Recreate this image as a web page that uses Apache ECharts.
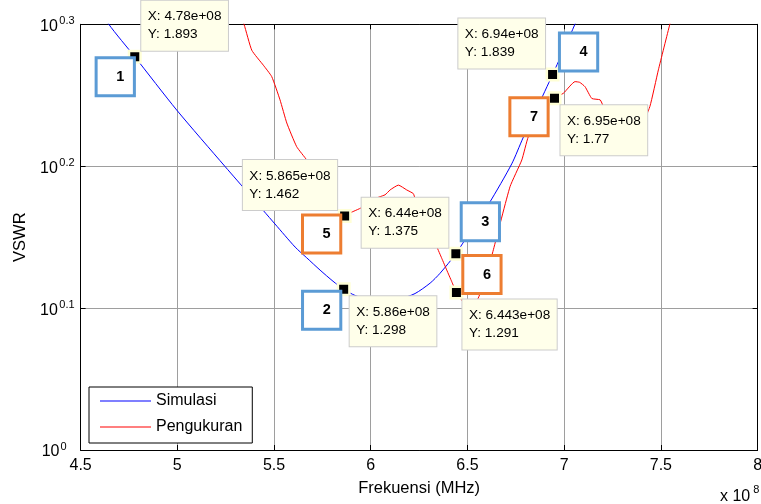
<!DOCTYPE html>
<html><head><meta charset="utf-8">
<script src="https://cdn.jsdelivr.net/npm/echarts@6/dist/echarts.min.js"></script>
<style>html,body{margin:0;padding:0;background:#fff}#c{width:761px;height:504px}</style>
</head><body><div id="c"></div>
<script>
// ---- data (frequency in units of 10^8 Hz) ----
const simFreq = [4.574, 4.645, 4.78, 4.997, 5.247, 5.376, 5.505, 5.609, 5.669, 5.738, 5.805, 5.86, 5.919, 5.986, 6.074, 6.151, 6.229, 6.307, 6.358, 6.44, 6.539, 6.613, 6.729, 6.787, 6.86, 6.94, 7.004, 7.056, 7.108];
const simVswr = [2.075, 1.996, 1.893, 1.736, 1.584, 1.512, 1.443, 1.390, 1.366, 1.339, 1.315, 1.298, 1.285, 1.277, 1.274, 1.278, 1.289, 1.311, 1.332, 1.375, 1.443, 1.493, 1.591, 1.659, 1.742, 1.839, 1.923, 1.996, 2.075];
const measFreq = [5.32, 5.345, 5.385, 5.445, 5.488, 5.531, 5.566, 5.617, 5.669, 5.72, 5.79, 5.865, 5.892, 5.953, 6.00, 6.074, 6.10, 6.143, 6.186, 6.22, 6.229, 6.28, 6.341, 6.367, 6.393, 6.419, 6.443, 6.477, 6.515, 6.555, 6.60, 6.634, 6.72, 6.781, 6.815, 6.88, 6.95, 6.996, 7.056, 7.08, 7.108, 7.143, 7.186, 7.203, 7.26, 7.33, 7.39, 7.443, 7.487, 7.546, 7.56];
const measVswr = [2.03, 1.995, 1.913, 1.867, 1.833, 1.765, 1.700, 1.636, 1.601, 1.56, 1.50, 1.462, 1.469, 1.482, 1.50, 1.513, 1.525, 1.537, 1.525, 1.516, 1.504, 1.45, 1.391, 1.365, 1.339, 1.314, 1.291, 1.272, 1.262, 1.279, 1.33, 1.384, 1.533, 1.601, 1.663, 1.72, 1.77, 1.784, 1.818, 1.816, 1.803, 1.769, 1.765, 1.746, 1.70, 1.66, 1.68, 1.746, 1.853, 1.995, 2.03];
const tipFreq = [4.78, 5.86, 6.44, 6.94, 5.865, 6.443, 6.95];
const tipVswr = [1.893, 1.298, 1.375, 1.839, 1.462, 1.291, 1.77];
const tipNumbers = ['1', '2', '3', '4', '5', '6', '7'];
const xTickLabels = ['4.5', '5', '5.5', '6', '6.5', '7', '7.5', '8'];
const yTickExponents = [0, 0.1, 0.2, 0.3];
const seriesNames = ['Simulasi', 'Pengukuran'];

// ---- annotation layout (positions / styles, not data) ----
const tipPlacement = ['ne', 'se', 'nw', 'nw', 'nw', 'se', 'se'];
const numberBoxOffsets = [[-19.5, 20], [-22, 21], [24.5, -32], [26, -22.5], [-23, 18], [25.5, -18], [-25.5, 18.5]];
const numberBoxColors = ['#5B9BD5', '#5B9BD5', '#5B9BD5', '#5B9BD5', '#ED7D31', '#ED7D31', '#ED7D31'];

const FONT = '"Liberation Sans", Arial, sans-serif';
const TIP_FS = 13.6, TIP_PX = 6.5, TIP_PY = 7, TIP_LH = 18;
const ctx = document.createElement('canvas').getContext('2d');
ctx.font = TIP_FS + 'px "Liberation Sans"';
function tipLines(i) { return ['X: ' + tipFreq[i] + 'e+08', 'Y: ' + tipVswr[i]]; }

const xMin = parseFloat(xTickLabels[0]), xMax = parseFloat(xTickLabels[xTickLabels.length - 1]);
const xInterval = parseFloat(xTickLabels[1]) - xMin;
const yMin = Math.pow(10, yTickExponents[0]);
const yMax = Math.pow(10, yTickExponents[yTickExponents.length - 1]);
const yLogInterval = yTickExponents[1] - yTickExponents[0];

const tipData = tipFreq.map((f, i) => {
  const lines = tipLines(i);
  const w = Math.max(...lines.map(l => ctx.measureText(l).width)) + 2 * TIP_PX;
  const p = tipPlacement[i];
  let dx, dy;
  if (p === 'ne') { dx = 6.5; dy = -56; }
  else if (p === 'se') { dx = 6; dy = 7; }
  else { dx = -7.5 - w; dy = -56; }
  return { value: [f, tipVswr[i]], label: { offset: [dx, dy] } };
});
const numData = tipFreq.map((f, i) => ({
  value: [f, tipVswr[i]],
  label: { offset: numberBoxOffsets[i], borderColor: numberBoxColors[i], formatter: tipNumbers[i] }
}));

const supRich = {
  b: { fontSize: 16, fontFamily: FONT, color: '#000', lineHeight: 18, padding: [6, 0, 2, 0] },
  s: { fontSize: 11, fontFamily: FONT, color: '#000', lineHeight: 12, verticalAlign: 'top', padding: [0, 0, 0, 1.5] },
  s0: { fontSize: 11, fontFamily: FONT, color: '#000', lineHeight: 12, verticalAlign: 'top', padding: [0, 8, 0, 1] }
};

const chart = echarts.init(document.getElementById('c'), null, { renderer: 'canvas' });
chart.setOption({
  animation: false,
  backgroundColor: '#fff',
  textStyle: { fontFamily: FONT },
  grid: { left: 80.6, right: 3.4, top: 24.3, bottom: 54, outerBoundsMode: 'none', containLabel: false },
  legend: {
    data: seriesNames, orient: 'vertical', left: 89, top: 387,
    icon: 'rect', itemWidth: 51, itemHeight: 1, itemGap: 8, padding: [5, 10, 7, 11],
    backgroundColor: '#fff', borderColor: '#000', borderWidth: 1, borderRadius: 0,
    textStyle: { fontSize: 16, lineHeight: 18, color: '#000', fontFamily: FONT }
  },
  xAxis: [{
    type: 'value', min: xMin, max: xMax, interval: xInterval,
    name: 'Frekuensi (MHz)', nameLocation: 'middle', nameGap: 30,
    nameTextStyle: { fontSize: 16.5, color: '#000', fontFamily: FONT },
    axisLine: { show: true, onZero: false, lineStyle: { color: '#000', width: 1 } },
    axisTick: { show: true, inside: true, length: 5, lineStyle: { color: '#000' } },
    axisLabel: { fontSize: 16, color: '#000', margin: 8, showMinLabel: true, showMaxLabel: true,
      formatter: (v) => xTickLabels.find(t => Math.abs(parseFloat(t) - v) < 1e-6) || '' },
    splitLine: { show: true, lineStyle: { color: '#9e9e9e', width: 1 } }
  }, {
    type: 'value', position: 'top', min: xMin, max: xMax, interval: xInterval,
    axisLine: { show: true, onZero: false, lineStyle: { color: '#000', width: 1 } },
    axisTick: { show: true, inside: true, length: 5, lineStyle: { color: '#000' } },
    axisLabel: { show: false }, splitLine: { show: false }
  }],
  yAxis: [{
    type: 'log', logBase: 10, min: yMin, max: yMax, interval: yLogInterval,
    name: 'VSWR', nameLocation: 'middle', nameGap: 52, nameRotate: 90,
    nameTextStyle: { fontSize: 16.5, color: '#000', fontFamily: FONT },
    axisLine: { show: true, onZero: false, lineStyle: { color: '#000', width: 1 } },
    axisTick: { show: true, inside: true, length: 5, lineStyle: { color: '#000' } },
    axisLabel: { margin: 6, showMinLabel: true, showMaxLabel: true, rich: supRich,
      formatter: (v) => {
        const e = Math.round(Math.log10(v) * 10) / 10;
        return '{b|10}{' + (e === 0 ? 's0' : 's') + '|' + e + '}';
      } },
    splitLine: { show: true, lineStyle: { color: '#9e9e9e', width: 1 } }
  }, {
    type: 'log', logBase: 10, min: yMin, max: yMax, interval: yLogInterval, position: 'right',
    axisLine: { show: true, onZero: false, lineStyle: { color: '#000', width: 1 } },
    axisTick: { show: true, inside: true, length: 5, lineStyle: { color: '#000' } },
    axisLabel: { show: false }, splitLine: { show: false }
  }],
  series: [{
    name: seriesNames[0], type: 'line', xAxisIndex: 0, yAxisIndex: 0,
    data: simFreq.map((f, i) => [f, simVswr[i]]),
    symbol: 'none', smooth: 0.25, clip: true,
    itemStyle: { color: '#0000ff' }, lineStyle: { color: '#0000ff', width: 1 }, z: 2
  }, {
    name: seriesNames[1], type: 'line', xAxisIndex: 0, yAxisIndex: 0,
    data: measFreq.map((f, i) => [f, measVswr[i]]),
    symbol: 'none', smooth: 0.15, clip: true,
    itemStyle: { color: '#ff0000' }, lineStyle: { color: '#ff0000', width: 1 }, z: 2
  }, {
    type: 'scatter', xAxisIndex: 0, yAxisIndex: 0, data: tipData, z: 5,
    symbol: 'rect', symbolSize: 11.5,
    itemStyle: { color: '#000', borderColor: '#ffffd6', borderWidth: 2.5, opacity: 1 },
    label: {
      show: true, position: 'inside', align: 'left', verticalAlign: 'top', opacity: 1,
      formatter: (p) => tipLines(p.dataIndex).join('\n'),
      fontSize: TIP_FS, lineHeight: TIP_LH, color: '#000', fontFamily: FONT,
      backgroundColor: '#ffffea', borderColor: '#cccccc', borderWidth: 1,
      padding: [TIP_PY, TIP_PX, TIP_PY, TIP_PX]
    },
    emphasis: { disabled: true }, silent: true
  }, {
    type: 'scatter', xAxisIndex: 0, yAxisIndex: 0, data: numData, z: 6,
    symbol: 'rect', symbolSize: 0.1, itemStyle: { color: 'rgba(0,0,0,0)', opacity: 1 },
    label: {
      show: true, position: 'inside', align: 'center', verticalAlign: 'middle', opacity: 1,
      fontSize: 14.5, fontWeight: 'bold', lineHeight: 14, color: '#000', fontFamily: FONT,
      backgroundColor: '#fff', borderWidth: 3,
      padding: [14.5, 8.6, 6.5, 18.6]
    },
    emphasis: { disabled: true }, silent: true
  }],
  graphic: [{
    type: 'text', x: 720, y: 493.2,
    style: { text: '{b|x 10}{s|8}', rich: {
      b: { fontSize: 16, fontFamily: FONT, color: '#000', lineHeight: 18, padding: [9, 0, 2, 0] },
      s: { fontSize: 11, fontFamily: FONT, color: '#000', lineHeight: 12, verticalAlign: 'top', padding: [0, 0, 0, 3] } },
      align: 'left', verticalAlign: 'middle' }
  }]
});
</script></body></html>
